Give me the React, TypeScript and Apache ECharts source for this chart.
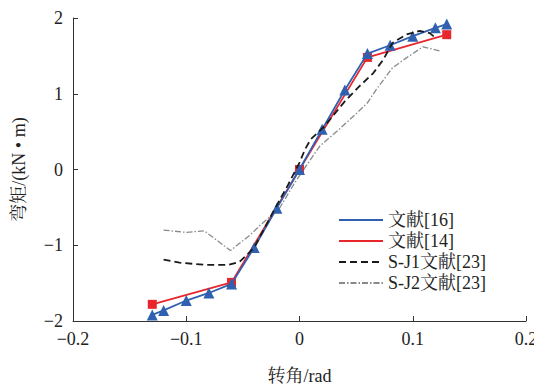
import React, { useEffect, useRef } from "react";
import * as echarts from "echarts";

const seriesNames = ["文献[16]", "文献[14]", "S-J1文献[23]", "S-J2文献[23]"];

const ref16: [number, number][] = [
  [-0.13, -1.92], [-0.12, -1.86], [-0.1, -1.73], [-0.08, -1.63], [-0.06, -1.51],
  [-0.04, -1.03], [-0.02, -0.51], [0, 0], [0.02, 0.53], [0.04, 1.05],
  [0.06, 1.53], [0.08, 1.64], [0.1, 1.76], [0.12, 1.87], [0.13, 1.92],
];

const ref14: [number, number][] = [
  [-0.13, -1.78], [-0.06, -1.49], [0, 0], [0.06, 1.48], [0.13, 1.78],
];

const sj1: [number, number][] = [
  [-0.12, -1.19], [-0.106, -1.23], [-0.082, -1.26], [-0.063, -1.26], [-0.053, -1.22],
  [-0.044, -1.09], [-0.04, -1.03], [-0.024, -0.58], [-0.01, -0.2], [0, 0.09],
  [0.005, 0.27], [0.01, 0.4], [0.022, 0.57], [0.04, 0.9], [0.053, 1.1],
  [0.065, 1.27], [0.074, 1.45], [0.082, 1.67], [0.094, 1.78], [0.106, 1.83],
  [0.115, 1.8], [0.12, 1.74],
];

const sj2: [number, number][] = [
  [-0.12, -0.8], [-0.1, -0.83], [-0.084, -0.81], [-0.061, -1.07], [-0.044, -0.87],
  [-0.035, -0.74], [-0.018, -0.52], [-0.004, -0.17], [0.006, 0.05], [0.018, 0.31],
  [0.035, 0.53], [0.051, 0.75], [0.06, 0.88], [0.068, 1.06], [0.082, 1.34],
  [0.094, 1.47], [0.109, 1.62], [0.125, 1.56],
];

const xAxisName = "转角/rad";
const yAxisName = "弯矩/(kN • m)";

const FONT = "Liberation Serif, Noto Serif CJK SC, Noto Sans CJK SC, serif";
const fmt = (v: number) => (v < 0 ? "\u2212" + String(Math.abs(v)) : String(v));

export default function App() {
  const ref = useRef<HTMLDivElement>(null);
  useEffect(() => {
    if (!ref.current) return;
    const chart = echarts.init(ref.current, undefined, { renderer: "svg" });
    const axisLine = { show: true, onZero: false, lineStyle: { color: "#333", width: 1 } };
    chart.setOption({
      animation: false,
      backgroundColor: "#fff",
      textStyle: { fontFamily: FONT },
      grid: { left: 73, right: 16, top: 18, bottom: 67, containLabel: false },
      legend: {
        orient: "vertical",
        left: 333,
        top: 206,
        itemWidth: 44,
        itemHeight: 10,
        itemGap: 3,
        data: seriesNames,
        itemStyle: { opacity: 0 },
        textStyle: { fontFamily: FONT, fontSize: 18, color: "#222", lineHeight: 18 },
      },
      xAxis: {
        type: "value",
        min: -0.2,
        max: 0.2,
        interval: 0.1,
        name: xAxisName,
        nameLocation: "middle",
        nameGap: 46,
        nameTextStyle: { fontFamily: FONT, fontSize: 18, color: "#222" },
        axisLine,
        axisTick: { show: true, inside: true, length: 5, lineStyle: { color: "#333" } },
        axisLabel: { formatter: fmt, fontFamily: FONT, fontSize: 18, color: "#222", margin: 9 },
        splitLine: { show: false },
      },
      yAxis: {
        type: "value",
        min: -2,
        max: 2,
        interval: 1,
        name: yAxisName,
        nameLocation: "middle",
        nameGap: 45,
        nameTextStyle: { fontFamily: FONT, fontSize: 18, color: "#222" },
        axisLine,
        axisTick: { show: true, inside: true, length: 5, lineStyle: { color: "#333" } },
        axisLabel: { formatter: fmt, fontFamily: FONT, fontSize: 18, color: "#222", margin: 10 },
        splitLine: { show: false },
      },
      series: [
        {
          name: seriesNames[3],
          type: "line",
          data: sj2,
          symbol: "none",
          lineStyle: { color: "#8a8a8a", width: 1.3, type: [6, 2, 1.5, 2] },
          itemStyle: { color: "#8a8a8a" },
          z: 2,
        },
        {
          name: seriesNames[2],
          type: "line",
          data: sj1,
          symbol: "none",
          lineStyle: { color: "#1a1a1a", width: 1.8, type: [7, 4] },
          itemStyle: { color: "#1a1a1a" },
          z: 5,
        },
        {
          name: seriesNames[1],
          type: "line",
          data: ref14,
          symbol: "rect",
          symbolSize: 9,
          lineStyle: { color: "#e8272d", width: 1.8 },
          itemStyle: { color: "#e8272d" },
          z: 3,
        },
        {
          name: seriesNames[0],
          type: "line",
          data: ref16,
          symbol: "triangle",
          symbolSize: 11,
          lineStyle: { color: "#3061b0", width: 1.8 },
          itemStyle: { color: "#3061b0" },
          z: 4,
        },
      ],
    });
    return () => chart.dispose();
  }, []);
  return <div ref={ref} style={{ width: 542, height: 390, marginLeft: -8, marginTop: -8 }} />;
}
